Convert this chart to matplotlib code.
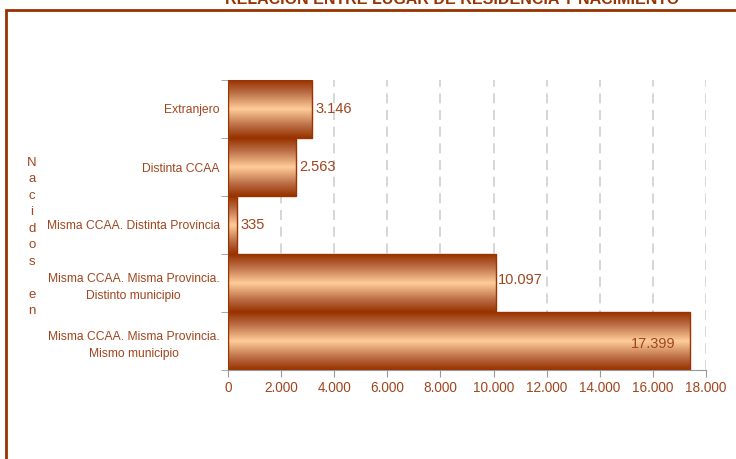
import numpy as np
import matplotlib
matplotlib.use("Agg")
import matplotlib.pyplot as plt
from matplotlib.colors import LinearSegmentedColormap
from matplotlib.patches import Rectangle

# data (bottom to top)
categorias = ["Misma CCAA. Misma Provincia.\nMismo municipio",
              "Misma CCAA. Misma Provincia.\nDistinto municipio",
              "Misma CCAA. Distinta Provincia",
              "Distinta CCAA",
              "Extranjero"]
valores = [17399, 10097, 335, 2563, 3146]
etiquetas = ["17.399", "10.097", "335", "2.563", "3.146"]
xticks = [0, 2000, 4000, 6000, 8000, 10000, 12000, 14000, 16000, 18000]
xticklabels = ["0", "2.000", "4.000", "6.000", "8.000", "10.000",
               "12.000", "14.000", "16.000", "18.000"]

marron = '#993300'
texto = '#A0461E'
plt.rcParams['font.family'] = ['Liberation Sans', 'DejaVu Sans']

fig = plt.figure(figsize=(7.36, 4.59), dpi=100)
ax = fig.add_axes([228/736, 1-370/459, 478/736, 290/459])

# gradient for the bars: dark edges, light middle
cmap = LinearSegmentedColormap.from_list(
    'barra', [(0, marron), (0.2, '#B86A42'), (0.5, '#FFCC99'),
              (0.8, '#B86A42'), (1, marron)])
grad = np.linspace(0, 1, 100).reshape(-1, 1)

ypos = np.arange(len(valores))
for y, v, lab in zip(ypos, valores, etiquetas):
    ax.imshow(grad, cmap=cmap, aspect='auto', extent=(0, v, y+0.5, y-0.5),
              zorder=2, interpolation='bilinear')
    ax.add_patch(Rectangle((0, y-0.5), v, 1, fill=False, edgecolor=marron,
                           lw=1, zorder=3))
    if v > 15000:
        ax.text(v - 550, y - 0.05, lab, ha='right', va='center',
                color=texto, fontsize=10.5, zorder=4)
    elif v > 8000:
        ax.text(v + 60, y + 0.05, lab, ha='left', va='center',
                color=texto, fontsize=10.5, zorder=4)
    else:
        ax.text(v + 130, y, lab, ha='left', va='center',
                color=texto, fontsize=10.5, zorder=4)

ax.set_xlim(0, 18000)
ax.set_ylim(-0.5, len(valores) - 0.5)
ax.set_xticks(xticks)
ax.set_xticklabels(xticklabels, color=texto, fontsize=9.8)
ax.set_yticks(ypos)
ax.set_yticklabels(categorias, color=texto, fontsize=8.7, ha='right',
                   multialignment='center', linespacing=1.6)
ax.tick_params(axis='y', length=0, pad=6)
# category boundary ticks
ax.set_yticks(np.arange(len(valores)+1) - 0.5, minor=True)
ax.tick_params(axis='y', which='minor', length=5, color='#999999', direction='out')
ax.tick_params(axis='x', length=5, color='#999999', pad=3)

ax.grid(axis='x', color='#D0D0D0', linestyle=(0, (6, 4)), lw=1.2, zorder=1)
ax.set_axisbelow(True)
for s in ['top', 'right']:
    ax.spines[s].set_visible(False)
ax.spines['left'].set_color('#999999')
ax.spines['bottom'].set_color('#999999')

# vertical stacked y label
fig.text(32/736, 1-237/459, "\n".join("Nacidos en"), ha='center', va='center',
         color=texto, fontsize=9.5, linespacing=1.5)

# frame and clipped title
fig.patches.append(Rectangle((6/736, -0.2), 1.5, 1.2 - 10/459, fill=False,
                             edgecolor=marron, lw=2, transform=fig.transFigure))
fig.text(225/736, 1 - 4/459, "RELACIÓN ENTRE LUGAR DE RESIDENCIA Y NACIMIENTO",
         ha='left', va='baseline', color=marron, fontsize=11.5, fontweight='bold')

fig.savefig("out.png", dpi=100)
